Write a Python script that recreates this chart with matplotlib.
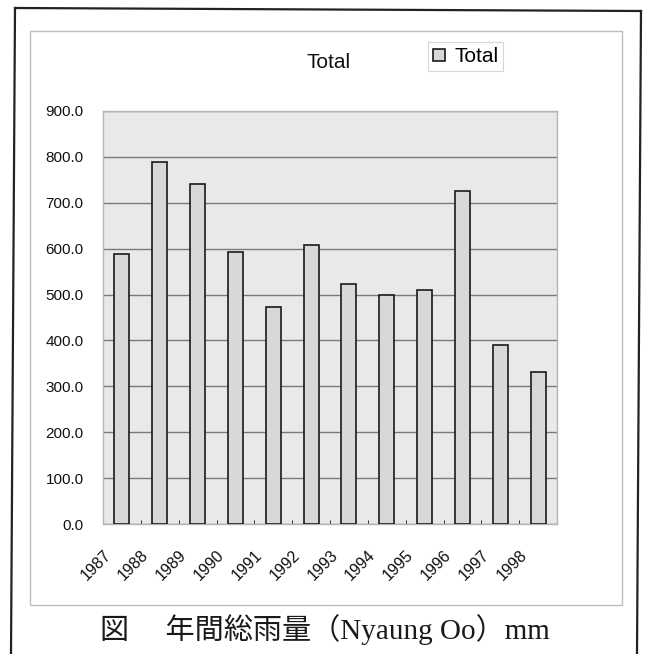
import matplotlib
matplotlib.use("Agg")
import matplotlib.pyplot as plt
import numpy as np
from matplotlib.patches import Rectangle
from matplotlib.lines import Line2D

years = ["1987", "1988", "1989", "1990", "1991", "1992", "1993", "1994",
         "1995", "1996", "1997", "1998"]
totals = [588, 789, 742, 593, 472, 608, 523, 500, 511, 725, 391, 331]
yticks = [0, 100, 200, 300, 400, 500, 600, 700, 800, 900]
ytick_labels = ["0.0", "100.0", "200.0", "300.0", "400.0", "500.0",
                "600.0", "700.0", "800.0", "900.0"]
title = "Total"
legend_label = "Total"
caption = "図　 年間総雨量（Nyaung Oo）mm"

W, H = 645, 654
fig = plt.figure(figsize=(W / 100, H / 100), dpi=100)
fig.patch.set_facecolor("white")

# outer scanned frame (black) and inner chart-area box (light gray)
fig.add_artist(Line2D([15 / W, 641 / W], [1 - 8 / H, 1 - 11 / H], color="#222222", lw=1.6))
fig.add_artist(Line2D([15 / W, 11 / W], [1 - 8 / H, 0], color="#222222", lw=1.6))
fig.add_artist(Line2D([641 / W, 637 / W], [1 - 11 / H, 0], color="#222222", lw=1.6))
fig.add_artist(Rectangle((30 / W, 1 - 605 / H), (622 - 30) / W, (605 - 31) / H,
                         transform=fig.transFigure, fill=False,
                         edgecolor="#bdbdbd", lw=1.0))

left, right, top, bottom = 103, 557, 111, 524
ax = fig.add_axes([left / W, 1 - bottom / H, (right - left) / W, (bottom - top) / H])
ax.set_facecolor("#e9e9e9")

x = np.arange(len(years))
bars = ax.bar(x, totals, width=0.4, color="#d8d8d8", edgecolor="#1a1a1a",
              linewidth=1.2, zorder=3, label=legend_label)

ax.set_xlim(-0.5, len(years) - 0.5)
ax.set_ylim(0, 900)
ax.set_yticks(yticks)
ax.set_yticklabels(ytick_labels, fontfamily="Liberation Sans", fontsize=11)
ax.yaxis.grid(True, color="#7a7a7a", lw=1.0, zorder=1)
ax.set_axisbelow(True)
ax.tick_params(axis="y", length=0, pad=14, colors="#111111")

ax.set_xticks(x - 0.5)
ax.set_xticklabels(years, rotation=45, ha="right", va="top",
                   rotation_mode="anchor", fontfamily="Liberation Sans",
                   fontsize=11.5)
ax.tick_params(axis="x", length=3, pad=17, colors="#111111", direction="in",
               width=0.6)
for t in ax.get_xticklines():
    t.set_color("#999999")

for s in ax.spines.values():
    s.set_color("#b5b5b5")
    s.set_linewidth(1.0)

fig.text(329 / W, 1 - 62 / H, title, ha="center", va="center",
         fontfamily="Liberation Sans", fontsize=15, color="#111111")

leg = fig.legend(handles=[bars], labels=[legend_label], loc="upper left",
                 bbox_to_anchor=(428 / W, 1 - 42 / H), frameon=True,
                 fancybox=False, prop={"family": "Liberation Sans", "size": 15},
                 handlelength=0.55, handleheight=0.55, handletextpad=0.45,
                 borderpad=0.25, borderaxespad=0)
leg.get_frame().set_edgecolor("#cccccc")
leg.get_frame().set_linewidth(0.8)

fig.text(325 / W, 1 - 630 / H, caption, ha="center", va="center",
         family=["Liberation Serif", "Noto Sans CJK JP"], fontsize=21,
         color="#1a1a1a")

fig.savefig("out.png", dpi=100)
